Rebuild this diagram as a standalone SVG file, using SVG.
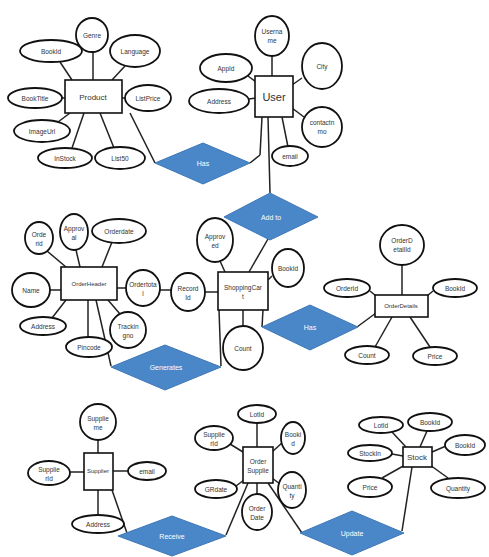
<svg xmlns="http://www.w3.org/2000/svg" width="489" height="557" viewBox="0 0 489 557">
<style>
.e{fill:#fff;stroke:#111;stroke-width:1.8}
.r{fill:#fff;stroke:#111;stroke-width:1.6}
.d{fill:#4a87c9;stroke:#3f78b5;stroke-width:1}
.l{stroke:#222;stroke-width:1.5;fill:none}
text{font-family:"Liberation Sans",Arial,sans-serif;font-size:6.5px;fill:#333;text-anchor:middle;dominant-baseline:central}
.dt{fill:#fff;font-size:7px}
</style>
<rect width="489" height="557" fill="#fff"/>
<g id="connectors">
<!-- Product -->
<line class="l" x1="93" y1="52" x2="93" y2="80"/>
<line class="l" x1="72" y1="80" x2="60" y2="62"/>
<line class="l" x1="112" y1="80" x2="125" y2="66"/>
<line class="l" x1="62" y1="98" x2="66" y2="98"/>
<line class="l" x1="121" y1="98" x2="126" y2="98"/>
<line class="l" x1="70" y1="113" x2="58" y2="122"/>
<line class="l" x1="84" y1="113" x2="72" y2="148"/>
<line class="l" x1="100" y1="113" x2="114" y2="148"/>
<line class="l" x1="130" y1="113" x2="155" y2="163"/>
<!-- User -->
<line class="l" x1="272" y1="55" x2="272" y2="76"/>
<line class="l" x1="248" y1="76" x2="256" y2="82"/>
<line class="l" x1="249" y1="99" x2="256" y2="98"/>
<line class="l" x1="302" y1="78" x2="292" y2="85"/>
<line class="l" x1="304" y1="117" x2="292" y2="108"/>
<line class="l" x1="282" y1="117" x2="288" y2="147"/>
<line class="l" x1="262" y1="117" x2="260" y2="155"/>
<line class="l" x1="260" y1="155" x2="250" y2="163"/>
<line class="l" x1="268" y1="117" x2="270" y2="193"/>
<!-- OrderHeader -->
<line class="l" x1="47" y1="251" x2="66" y2="267"/>
<line class="l" x1="76" y1="250" x2="80" y2="267"/>
<line class="l" x1="112" y1="242" x2="102" y2="267"/>
<line class="l" x1="50" y1="290" x2="61" y2="290"/>
<line class="l" x1="52" y1="318" x2="66" y2="300"/>
<line class="l" x1="88" y1="300" x2="88" y2="337"/>
<line class="l" x1="108" y1="300" x2="120" y2="314"/>
<line class="l" x1="117" y1="288" x2="126" y2="288"/>
<line class="l" x1="160" y1="290" x2="172" y2="290"/>
<line class="l" x1="96" y1="300" x2="111" y2="366"/>
<!-- ShoppingCart -->
<line class="l" x1="205" y1="292" x2="218" y2="292"/>
<line class="l" x1="220" y1="261" x2="225" y2="272"/>
<line class="l" x1="249" y1="272" x2="268" y2="239"/>
<line class="l" x1="268" y1="280" x2="272" y2="276"/>
<line class="l" x1="243" y1="310" x2="243" y2="326"/>
<line class="l" x1="219" y1="310" x2="221" y2="366"/>
<line class="l" x1="263" y1="310" x2="262" y2="327"/>
<!-- OrderDetails -->
<line class="l" x1="402" y1="265" x2="402" y2="295"/>
<line class="l" x1="370" y1="291" x2="376" y2="296"/>
<line class="l" x1="433" y1="291" x2="427" y2="296"/>
<line class="l" x1="375" y1="347" x2="392" y2="317"/>
<line class="l" x1="430" y1="347" x2="410" y2="317"/>
<line class="l" x1="357" y1="327" x2="376" y2="313"/>
<!-- Supplier -->
<line class="l" x1="98" y1="440" x2="98" y2="453"/>
<line class="l" x1="70" y1="472" x2="84" y2="472"/>
<line class="l" x1="112" y1="471" x2="128" y2="471"/>
<line class="l" x1="98" y1="490" x2="98" y2="515"/>
<line class="l" x1="112" y1="490" x2="128" y2="536"/>
<!-- OrderSupplier -->
<line class="l" x1="257" y1="423" x2="257" y2="447"/>
<line class="l" x1="230" y1="444" x2="243" y2="452"/>
<line class="l" x1="283" y1="442" x2="272" y2="452"/>
<line class="l" x1="236" y1="486" x2="244" y2="480"/>
<line class="l" x1="280" y1="484" x2="272" y2="478"/>
<line class="l" x1="257" y1="483" x2="257" y2="494"/>
<line class="l" x1="248" y1="483" x2="226" y2="535"/>
<line class="l" x1="268" y1="483" x2="302" y2="533"/>
<!-- Stock -->
<line class="l" x1="392" y1="432" x2="406" y2="447"/>
<line class="l" x1="427" y1="431" x2="420" y2="447"/>
<line class="l" x1="446" y1="446" x2="432" y2="452"/>
<line class="l" x1="392" y1="454" x2="403" y2="456"/>
<line class="l" x1="382" y1="478" x2="405" y2="465"/>
<line class="l" x1="448" y1="478" x2="430" y2="465"/>
<line class="l" x1="412" y1="467" x2="402" y2="531"/>
</g>
<g id="rel-has1"><polygon class="d" points="155,163 203,143 250,163 203,184"/><text class="dt" x="203" y="163">Has</text></g>
<g id="rel-addto"><polygon class="d" points="224,217 270,193 318,217 270,240"/><text class="dt" x="271" y="217">Add to</text></g>
<g id="rel-generates"><polygon class="d" points="111,367 165,345 221,367 165,390"/><text class="dt" x="166" y="367">Generates</text></g>
<g id="rel-has2"><polygon class="d" points="262,327 310,305 358,327 310,350"/><text class="dt" x="310" y="327">Has</text></g>
<g id="rel-receive"><polygon class="d" points="118,536 172,516 226,536 172,556"/><text class="dt" x="172" y="536">Receive</text></g>
<g id="rel-update"><polygon class="d" points="300,533 352,511 404,533 352,555"/><text class="dt" x="352" y="533">Update</text></g>

<g id="product"><rect class="r" x="65" y="80" width="57" height="33"/><text x="93" y="97" style="font-size:8px">Product</text></g>
<g id="p-genre"><ellipse class="e" cx="92" cy="35" rx="16" ry="17"/><text x="92" y="35">Genre</text></g>
<g id="p-bookid"><ellipse class="e" cx="51" cy="51" rx="31" ry="11"/><text x="51" y="51">BookId</text></g>
<g id="p-language"><ellipse class="e" cx="135" cy="51" rx="25" ry="16"/><text x="135" y="51">Language</text></g>
<g id="p-booktitle"><ellipse class="e" cx="35" cy="98" rx="27" ry="10"/><text x="35" y="98">BookTitle</text></g>
<g id="p-listprice"><ellipse class="e" cx="148" cy="98" rx="23" ry="13"/><text x="148" y="98">ListPrice</text></g>
<g id="p-imageurl"><ellipse class="e" cx="42" cy="131" rx="28" ry="11"/><text x="42" y="131">ImageUrl</text></g>
<g id="p-instock"><ellipse class="e" cx="65" cy="158" rx="27" ry="10"/><text x="65" y="158">InStock</text></g>
<g id="p-list50"><ellipse class="e" cx="120" cy="158" rx="25" ry="11"/><text x="120" y="158">List50</text></g>

<g id="user"><rect class="r" x="255" y="76" width="38" height="41"/><text x="274" y="97" style="font-size:11px">User</text></g>
<g id="u-username"><ellipse class="e" cx="272" cy="36" rx="17" ry="20"/><text x="272" y="31">Userna</text><text x="272" y="40">me</text></g>
<g id="u-city"><ellipse class="e" cx="322" cy="66" rx="20" ry="23"/><text x="322" y="66">City</text></g>
<g id="u-appid"><ellipse class="e" cx="226" cy="68" rx="26" ry="14"/><text x="226" y="68">AppId</text></g>
<g id="u-address"><ellipse class="e" cx="219" cy="101" rx="30" ry="12"/><text x="219" y="101">Address</text></g>
<g id="u-contactno"><ellipse class="e" cx="322" cy="127" rx="20" ry="20"/><text x="322" y="122">contactn</text><text x="322" y="131">mo</text></g>
<g id="u-email"><ellipse class="e" cx="290" cy="156" rx="18" ry="10"/><text x="290" y="156">email</text></g>

<g id="orderheader"><rect class="r" x="61" y="267" width="56" height="33"/><text x="89" y="284" style="font-size:6px">OrderHeader</text></g>
<g id="oh-orderid"><ellipse class="e" cx="39" cy="238" rx="14" ry="16"/><text x="39" y="234">Orde</text><text x="39" y="243">rid</text></g>
<g id="oh-approval"><ellipse class="e" cx="74" cy="232" rx="14" ry="18"/><text x="74" y="228">Approv</text><text x="74" y="237">al</text></g>
<g id="oh-orderdate"><ellipse class="e" cx="119" cy="231" rx="27" ry="12"/><text x="119" y="231">Orderdate</text></g>
<g id="oh-name"><ellipse class="e" cx="31" cy="290" rx="19" ry="17"/><text x="31" y="290">Name</text></g>
<g id="oh-address"><ellipse class="e" cx="43" cy="326" rx="23" ry="9"/><text x="43" y="326">Address</text></g>
<g id="oh-pincode"><ellipse class="e" cx="89" cy="347" rx="23" ry="10"/><text x="89" y="347">Pincode</text></g>
<g id="oh-trackingno"><ellipse class="e" cx="128" cy="330" rx="18" ry="18"/><text x="128" y="326">Trackin</text><text x="128" y="335">gno</text></g>
<g id="oh-ordertotal"><ellipse class="e" cx="143" cy="288" rx="17" ry="18"/><text x="143" y="284">Ordertota</text><text x="143" y="293">l</text></g>

<g id="shoppingcart"><rect class="r" x="218" y="272" width="50" height="38"/><text x="243" y="287">ShoppingCar</text><text x="243" y="296">t</text></g>
<g id="sc-recordid"><ellipse class="e" cx="188" cy="292" rx="17" ry="19"/><text x="188" y="288">Record</text><text x="188" y="297">Id</text></g>
<g id="sc-approved"><ellipse class="e" cx="215" cy="240" rx="18" ry="22"/><text x="215" y="236">Approv</text><text x="215" y="245">ed</text></g>
<g id="sc-bookid"><ellipse class="e" cx="288" cy="268" rx="16" ry="19"/><text x="288" y="268">BookId</text></g>
<g id="sc-count"><ellipse class="e" cx="243" cy="348" rx="20" ry="22"/><text x="243" y="348">Count</text></g>

<g id="orderdetails"><rect class="r" x="375" y="295" width="53" height="22"/><text x="401" y="306" style="font-size:6px">OrderDetails</text></g>
<g id="od-orderdetailid"><ellipse class="e" cx="402" cy="245" rx="22" ry="20"/><text x="402" y="240">OrderD</text><text x="402" y="249">etailId</text></g>
<g id="od-orderid"><ellipse class="e" cx="347" cy="288" rx="23" ry="9"/><text x="347" y="288">OrderId</text></g>
<g id="od-bookid"><ellipse class="e" cx="455" cy="288" rx="22" ry="9"/><text x="455" y="288">BookId</text></g>
<g id="od-count"><ellipse class="e" cx="367" cy="355" rx="22" ry="9"/><text x="367" y="355">Count</text></g>
<g id="od-price"><ellipse class="e" cx="435" cy="356" rx="22" ry="9"/><text x="435" y="356">Price</text></g>

<g id="supplier"><rect class="r" x="84" y="453" width="29" height="37"/><text x="98" y="471" style="font-size:6px">Supplier</text></g>
<g id="s-suppliername"><ellipse class="e" cx="98" cy="422" rx="18" ry="18"/><text x="98" y="418">Supplie</text><text x="98" y="427">me</text></g>
<g id="s-supplierid"><ellipse class="e" cx="49" cy="473" rx="21" ry="12"/><text x="49" y="469">Supplie</text><text x="49" y="478">rId</text></g>
<g id="s-email"><ellipse class="e" cx="147" cy="471" rx="19" ry="9"/><text x="147" y="471">email</text></g>
<g id="s-address"><ellipse class="e" cx="98" cy="524" rx="26" ry="9"/><text x="98" y="524">Address</text></g>

<g id="ordersupplier"><rect class="r" x="243" y="447" width="30" height="36"/><text x="258" y="461">Order</text><text x="258" y="470">Supplie</text></g>
<g id="os-lotid"><ellipse class="e" cx="257" cy="414" rx="19" ry="9"/><text x="257" y="414">LotId</text></g>
<g id="os-supplierid"><ellipse class="e" cx="214" cy="438" rx="19" ry="12"/><text x="214" y="434">Supplie</text><text x="214" y="443">rId</text></g>
<g id="os-bookid"><ellipse class="e" cx="293" cy="438" rx="12" ry="16"/><text x="293" y="434">Booki</text><text x="293" y="443">d</text></g>
<g id="os-grdate"><ellipse class="e" cx="216" cy="489" rx="21" ry="9"/><text x="216" y="489">GRdate</text></g>
<g id="os-quantity"><ellipse class="e" cx="292" cy="490" rx="14" ry="18"/><text x="292" y="486">Quanti</text><text x="292" y="495">ty</text></g>
<g id="os-orderdate"><ellipse class="e" cx="257" cy="512" rx="15" ry="18"/><text x="257" y="508">Order</text><text x="257" y="517">Date</text></g>

<g id="stock"><rect class="r" x="403" y="447" width="29" height="20"/><text x="417" y="457" style="font-size:8px">Stock</text></g>
<g id="st-lotid"><ellipse class="e" cx="381" cy="425" rx="22" ry="8"/><text x="381" y="425">LotId</text></g>
<g id="st-bookid"><ellipse class="e" cx="430" cy="422" rx="22" ry="9"/><text x="430" y="422">BookId</text></g>
<g id="st-bookid2"><ellipse class="e" cx="465" cy="445" rx="20" ry="10"/><text x="465" y="445">BookId</text></g>
<g id="st-stockin"><ellipse class="e" cx="370" cy="453" rx="22" ry="8"/><text x="370" y="453">StockIn</text></g>
<g id="st-price"><ellipse class="e" cx="370" cy="487" rx="22" ry="10"/><text x="370" y="487">Price</text></g>
<g id="st-quantity"><ellipse class="e" cx="458" cy="488" rx="27" ry="10"/><text x="458" y="488">Quantity</text></g>
</svg>
